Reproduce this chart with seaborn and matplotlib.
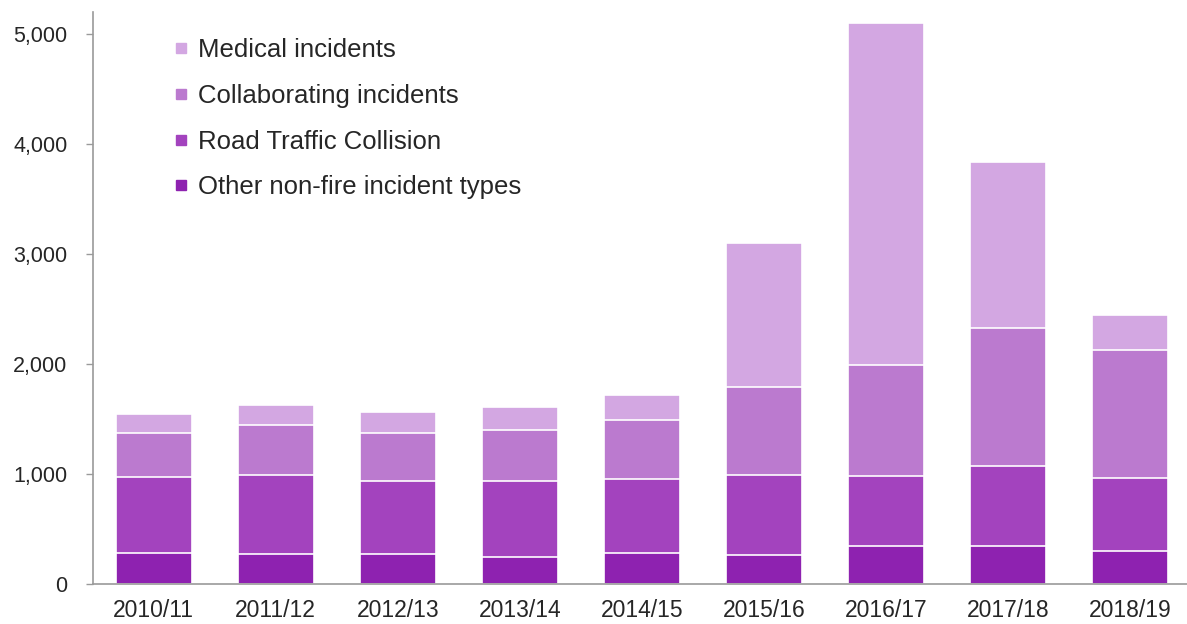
import matplotlib
matplotlib.use("Agg")
import matplotlib.pyplot as plt
import matplotlib.ticker as mticker
from matplotlib.lines import Line2D
import numpy as np
import pandas as pd
import seaborn as sns

years = ["2010/11", "2011/12", "2012/13", "2013/14", "2014/15",
         "2015/16", "2016/17", "2017/18", "2018/19"]
other_nonfire = [285, 270, 270, 250, 285, 265, 345, 345, 300]
road_traffic = [690, 720, 665, 690, 670, 725, 635, 725, 660]
collaborating = [400, 460, 440, 460, 535, 800, 1015, 1255, 1165]
medical = [175, 175, 190, 205, 225, 1305, 3100, 1515, 320]

series = ["Other non-fire incident types", "Road Traffic Collision",
          "Collaborating incidents", "Medical incidents"]
colors = ["#8E22B0", "#A343BE", "#BB7ACF", "#D3A7E2"]

df = pd.DataFrame({
    "year": years,
    series[0]: other_nonfire,
    series[1]: road_traffic,
    series[2]: collaborating,
    series[3]: medical,
})
# cumulative heights so each layer can be drawn over the one above it
cum = df[series].cumsum(axis=1)
cum["year"] = df["year"]

sns.set_theme(style="white")
plt.rcParams["font.family"] = ["Liberation Sans", "DejaVu Sans"]

fig = plt.figure(figsize=(11.87, 6.24), dpi=100)
ax = fig.add_axes([0.078, 0.064, 0.922, 0.917])

for name, col in reversed(list(zip(series, colors))):
    sns.barplot(data=cum, x="year", y=name, color=col, width=0.623,
                edgecolor="white", linewidth=1.2, saturation=1, ax=ax)

ax.set_xlim(-0.5, 8.467)
ax.set_ylim(0, 5200)
ax.set_yticks([0, 1000, 2000, 3000, 4000, 5000])
ax.yaxis.set_major_formatter(mticker.FuncFormatter(lambda v, p: f"{int(v):,}"))
ax.set_xlabel("")
ax.set_ylabel("")

for side in ["top", "right"]:
    ax.spines[side].set_visible(False)
for side in ["left", "bottom"]:
    ax.spines[side].set_color("#9a9a9a")
    ax.spines[side].set_linewidth(1.2)

ax.tick_params(axis="y", which="major", left=True, length=5, width=1,
               color="#9a9a9a", labelsize=15.5, labelcolor="#262626", pad=13)
ax.tick_params(axis="x", which="major", bottom=False, length=0,
               labelsize=16.5, labelcolor="#262626", pad=11)

handles = [Line2D([0], [0], marker="s", linestyle="none", markersize=7.5,
                  markerfacecolor=c, markeredgecolor=c)
           for c in reversed(colors)]
labels = list(reversed(series))
leg = ax.legend(handles, labels, loc="upper left",
                bbox_to_anchor=(0.053, 0.995), frameon=False,
                fontsize=18.5, labelspacing=0.85, handlelength=0.55,
                handletextpad=0.4, labelcolor="#262626")

fig.savefig("out.png", dpi=100, facecolor="white")
